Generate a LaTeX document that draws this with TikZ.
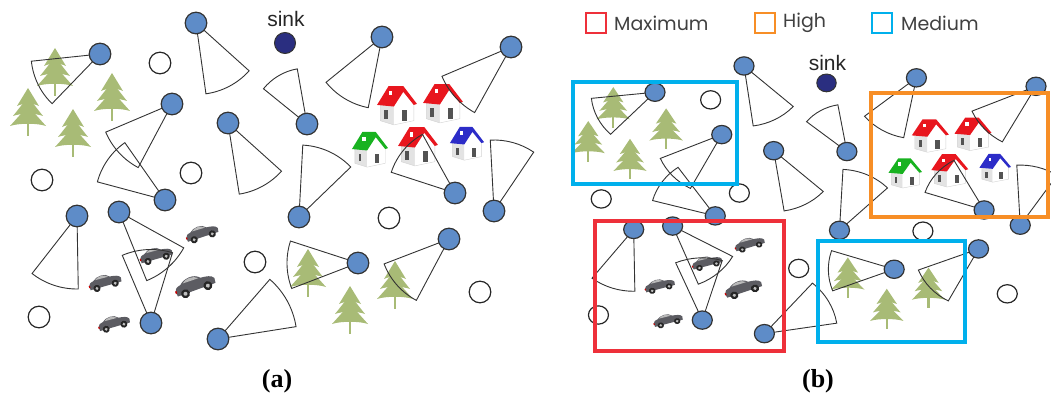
\documentclass[tikz,border=0pt]{standalone}
\usepackage{fontspec}
\setmainfont{Liberation Serif}
\newfontfamily\legendfont{Poppins}
\newfontfamily\sinkfont{Liberation Sans}
\usepackage{tikz}
\usetikzlibrary{calc}
\usepackage{xcolor}

\definecolor{nodeblue}{RGB}{94,140,200}
\definecolor{sinkblue}{RGB}{42,46,128}
\definecolor{pinegreen}{RGB}{168,187,118}
\definecolor{boxred}{RGB}{238,48,58}
\definecolor{boxorange}{RGB}{247,142,38}
\definecolor{boxcyan}{RGB}{0,176,236}
\definecolor{carbody}{RGB}{92,92,98}
\definecolor{roofred}{RGB}{232,22,30}
\definecolor{roofgreen}{RGB}{24,178,32}
\definecolor{roofblue}{RGB}{44,44,200}

%% sensor with its sensing sector: x, y, start angle, end angle, range
\newcommand{\sensor}[5]{%
  \draw[fov] (#1,#2) -- +(#3:#5pt) arc[start angle=#3, end angle=#4, radius=#5pt] -- cycle;
  \draw[sensornode] (#1,#2) circle (10.8pt);}
\newcommand{\idle}[2]{\draw[idlenode] (#1,#2) circle (10.8pt);}

%% pine tree centred at x, y
\newcommand{\pine}[2]{%
  \begin{scope}[shift={(#1,#2)}]
    \fill[pinegreen] (-1.2,11) rectangle (1.2,24);
    \fill[pinegreen] (0,-24) .. controls (-5,-15) .. (-11,-6) .. controls (-5,-9) and (5,-9) .. (11,-6) .. controls (5,-15) .. (0,-24) -- cycle;
    \fill[pinegreen] (0,-15) .. controls (-7,-5.5) .. (-15,4) .. controls (-7,1) and (7,1) .. (15,4) .. controls (7,-5.5) .. (0,-15) -- cycle;
    \fill[pinegreen] (0,-6) .. controls (-8.5,4) .. (-18,14) .. controls (-9,11) and (9,11) .. (18,14) .. controls (8.5,4) .. (0,-6) -- cycle;
  \end{scope}}

%% house: x, y, scale, roof colour
\newcommand{\house}[4]{%
  \begin{scope}[shift={(#1,#2)}, scale=#3]
    \fill[gray!22] (-16,-2) -- (-3,0) -- (-3,18) -- (-16,14) -- cycle;
    \fill[white] (-3,0) -- (6,-14) -- (16,-2) -- (16,14) -- (-3,18) -- cycle;
    \draw[gray!35, line width=0.4pt] (-16,-2) -- (-16,14) -- (-3,18) -- (16,14) -- (16,-2);
    \fill[#4] (-19,-1) -- (-8,-19) -- (6,-19) -- (19,-2) -- (16,-1) -- (6,-13.5) -- (-3,0.5) -- cycle;
    \fill[gray!65!black] (-12,4) rectangle (-9,12);
    \fill[gray!65!black] (5,4) rectangle (9.5,14);
    \fill[white] (-8,-14) rectangle (-4.5,-10);
  \end{scope}}

%% car: x, y, tilt, scale
\newcommand{\car}[4]{%
  \begin{scope}[shift={(#1,#2)}, rotate=#3, scale=#4]
    \fill[carbody] (-16,4) -- (-16.5,0) .. controls (-15,-3) .. (-11,-4) .. controls (-7,-8) and (2,-9) .. (6,-4) .. controls (11,-3.5) and (15,-3) .. (16.5,0) -- (16,4) -- cycle;
    \fill[gray!55] (-9,-4.5) .. controls (-6,-7.5) and (1,-8) .. (4.5,-4.2) -- cycle;
    \fill[red!80!black] (-16.8,-0.5) rectangle (-15.6,1.5);
    \foreach \wx in {-9.5,9.5} {
      \fill[black!85] (\wx,4) circle (3.6pt);
      \fill[gray!50] (\wx,4) circle (1.6pt);
    }
  \end{scope}}

%% whole monitored field, names prefixed by #1
\newcommand{\field}[1]{%
  % trees
  \pine{55}{72}   \pine{112}{97}  \pine{28}{112}  \pine{73}{133}
  \pine{308}{273} \pine{350}{310} \pine{395}{285}
  % houses
  \house{397}{106}{1.05}{roofred}
  \house{443}{104}{1.05}{roofred}
  \house{370}{150}{0.95}{roofgreen}
  \house{418}{147}{1.05}{roofred}
  \house{467}{144}{0.9}{roofblue}
  % cars
  \car{202}{233}{18}{1}
  \car{156}{255}{16}{1}
  \car{105}{282}{16}{1}
  \car{195}{285}{20}{1.25}
  \car{114}{323}{16}{0.97}
  % idle nodes
  \idle{160}{63}  \idle{42}{180}  \idle{191}{173} \idle{255}{262}
  \idle{39}{317}  \idle{389}{218} \idle{480}{292}
  % active sensors
  \sensor{100}{54}{186}{226}{69}
  \sensor{196}{23}{-82}{-42}{71.5}
  \sensor{172}{104}{203}{242}{72}
  \sensor{165}{200}{125}{165}{70}
  \sensor{228}{123}{-81}{-42}{72}
  \sensor{382}{37}{219}{259}{72}
  \sensor{307}{124}{100}{141}{56}
  \sensor{511}{47}{203}{241}{75}
  \sensor{455}{193}{119}{162}{67}
  \sensor{494}{211}{56}{93}{71}
  \sensor{299}{217}{44}{87}{72}
  \sensor{77}{216}{232}{271}{73}
  \sensor{119}{212}{-68}{-29}{74}
  \sensor{151}{323}{73}{113}{73.5}
  \sensor{218}{339}{9}{49}{79}
  \sensor{358}{263}{162}{201}{71}
  \sensor{449}{239}{201}{242}{69.5}
  % sink
  \fill[sinkblue] (285,43) circle (10.5pt);
  \draw[black!80, line width=1pt] (285,43) circle (10.5pt);
  \node[sinklabel] (#1sink) at (286,19) {sink};}

\begin{document}
\begin{tikzpicture}[
    x=1pt, y=-1pt,
    fov/.style={draw=black!80, line width=0.9pt},
    sensornode/.style={fill=nodeblue, draw=black!80, line width=1.2pt},
    idlenode/.style={fill=white, draw=black!85, line width=1.2pt},
    sinklabel/.style={font=\sinkfont\fontsize{21}{24}\selectfont, text=black!85, inner sep=0pt},
    region/.style={line width=3.3pt},
    legendbox/.style={line width=2.8pt},
    legendtext/.style={font=\legendfont\fontsize{19}{22}\selectfont, text=black!75, anchor=west, inner sep=0pt},
    panellabel/.style={font=\fontsize{26}{30}\selectfont\bfseries, inner sep=0pt}
]
\useasboundingbox (0,0) rectangle (1051,401);

%% ---- PANEL (a): the field ----
\field{a}
\node [panellabel] (labela) at (277,381) {(a)};

%% ---- PANEL (b): same field, shrunk ----
\begin{scope}[shift={(562.3,46.5)}, xscale=0.927, yscale=0.847]
  \field{b}
\end{scope}
\node [panellabel] (labelb) at (818,381) {(b)};

%% ---- PANEL (b): priority regions ----
\draw [region, boxcyan]   (573,82)  rectangle (737,184);
\draw [region, boxorange] (871,93)  rectangle (1048,217);
\draw [region, boxred]    (595,221) rectangle (784,351);
\draw [region, boxcyan]   (818,241) rectangle (965,342);

%% ---- legend ----
\draw [legendbox, boxred]    (586,13) rectangle (606,33);
\node [legendtext] (maxtext) at (614,23) {Maximum};
\draw [legendbox, boxorange] (755,13) rectangle (775,33);
\node [legendtext] (hightext) at (783,23) {High};
\draw [legendbox, boxcyan]   (872,13) rectangle (892,33);
\node [legendtext] (medtext) at (901,23) {Medium};

\end{tikzpicture}
\end{document}
